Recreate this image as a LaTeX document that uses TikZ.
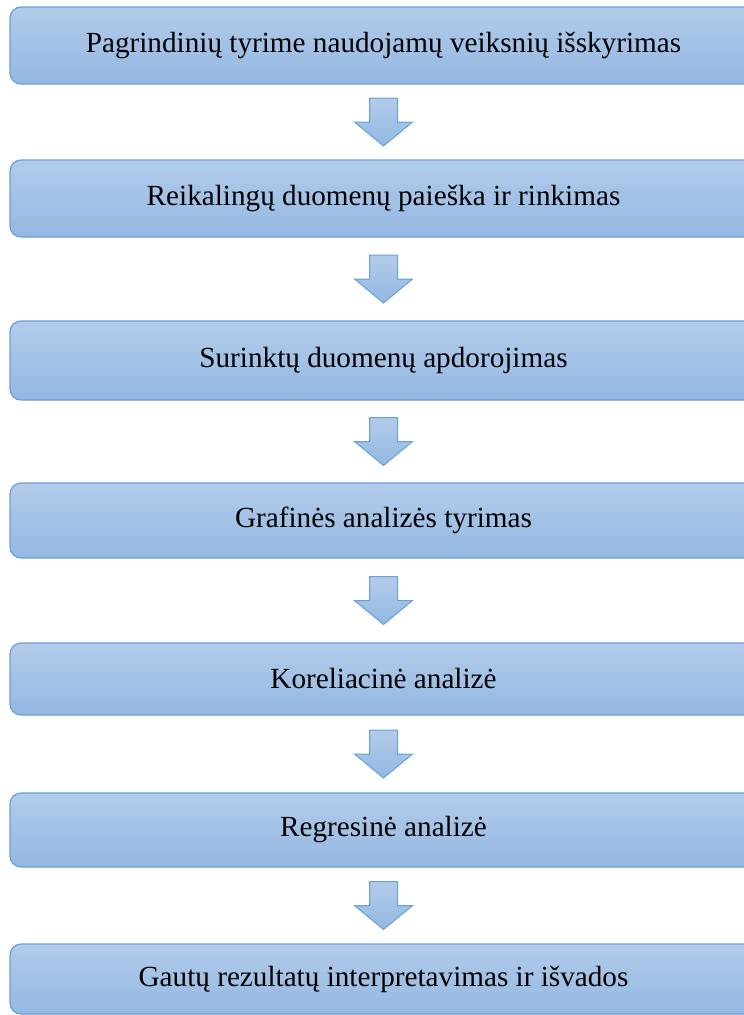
\documentclass[tikz,border=0pt]{standalone}
\usepackage{fontspec}
\setmainfont{Liberation Serif}
\usetikzlibrary{calc}
\definecolor{fillTop}{HTML}{B2CBEA}
\definecolor{fillBot}{HTML}{94B8E2}
\definecolor{edgeBlue}{HTML}{6A9FD8}
\tikzset{
  stepbox/.style={draw=edgeBlue, line width=1.2pt, rounded corners=11pt,
    top color=fillTop, bottom color=fillBot, minimum width=747pt,
    inner sep=0pt, font=\fontsize{29.2}{34}\selectfont, text=black},
  downarrow/.style={draw=edgeBlue, line width=1pt, top color=fillTop, bottom color=fillBot}
}
\begin{document}
\begin{tikzpicture}[x=1pt,y=-1pt]
\useasboundingbox (0,0) rectangle (744,1015);
\node[stepbox, minimum height=77pt] (b1) at (383.5,45.5) {Pagrindinių tyrime naudojamų veiksnių išskyrimas};
\node[stepbox, minimum height=77pt] (b2) at (383.5,198.5) {Reikalingų duomenų paieška ir rinkimas};
\node[stepbox, minimum height=79pt] (b3) at (383.5,360.5) {Surinktų duomenų apdorojimas};
\node[stepbox, minimum height=75pt] (b4) at (383.5,520.5) {Grafinės analizės tyrimas};
\node[stepbox, minimum height=72pt] (b5) at (383.5,679) {Koreliacinė analizė};
\node[stepbox, minimum height=74pt] (b6) at (383.5,830) {Regresinė analizė};
\node[stepbox, minimum height=70pt] (b7) at (383.5,979) {Gautų rezultatų interpretavimas ir išvados};
\foreach \a/\b in {b1/b2,b2/b3,b3/b4,b4/b5,b5/b6,b6/b7}{
  \coordinate (m\a) at ($(\a.south)!0.5!(\b.north)$);
  \draw[downarrow, shift={(m\a)}] (-14,-24) -- (14,-24) -- (14,0) -- (29,0) -- (0,24) -- (-29,0) -- (-14,0) -- cycle;
}
\end{tikzpicture}
\end{document}
